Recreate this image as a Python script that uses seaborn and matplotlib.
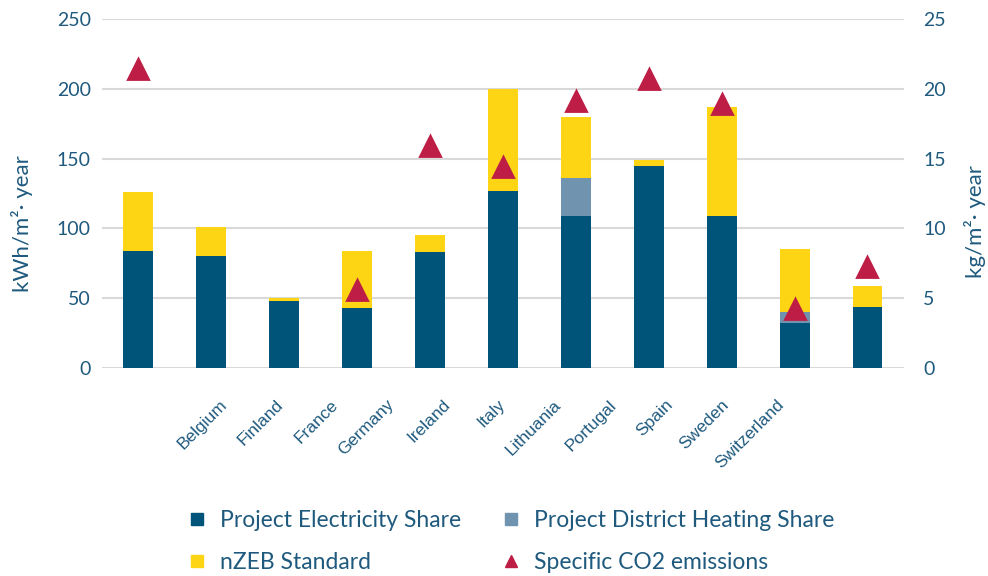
import numpy as np
import pandas as pd
import matplotlib
matplotlib.use('Agg')
import matplotlib.pyplot as plt
import seaborn as sns
from matplotlib.lines import Line2D

# data
countries = ['Belgium', 'Finland', 'France', 'Germany', 'Ireland', 'Italy',
             'Lithuania', 'Portugal', 'Spain', 'Sweden', 'Switzerland']
electricity = [84, 80, 48, 43, 83, 127, 109, 145, 109, 32, 44]
district_heating = [0, 0, 0, 0, 0, 0, 27, 0, 0, 8, 0]
nzeb = [126, 101, 50, 84, 95, 200, 180, 149, 187, 85, 59]
co2 = [21.4, np.nan, np.nan, 5.6, 15.9, 14.4, 19.1, 20.7, 18.9, 4.2, 7.2]

# colours
c_elec = '#00547A'
c_dh = '#7094B0'
c_nzeb = '#FDD514'
c_co2 = '#BE1E45'
c_text = '#1F5A7E'
c_grid = '#D9D9D9'

df = pd.DataFrame({'country': countries, 'electricity': electricity,
                   'district': district_heating, 'nzeb': nzeb, 'co2': co2})
df['dh_top'] = df['electricity'] + df['district']

sns.set_style('white')
plt.rcParams['font.family'] = ['Lato', 'DejaVu Sans']

fig = plt.figure(figsize=(9.88, 5.76), dpi=100)
ax = fig.add_axes([0.1032, 0.3611, 0.8117, 0.6059])

# stacked look: nZEB behind, then district heating, then electricity
for col, c, z in [('nzeb', c_nzeb, 2), ('dh_top', c_dh, 3), ('electricity', c_elec, 4)]:
    sns.barplot(data=df, x='country', y=col, color=c, width=0.41,
                saturation=1, linewidth=0, ax=ax, zorder=z)

ax.set_ylim(0, 250)
ax.set_yticks(range(0, 251, 50))
ax.set_xlim(-0.5, len(countries) - 0.5)
ax.grid(axis='y', color=c_grid, linewidth=1.5)
ax.set_axisbelow(True)
sns.despine(ax=ax, left=True, bottom=True)
ax.tick_params(axis='y', length=0, pad=8, labelsize=14, labelcolor=c_text)
ax.set_ylabel('kWh/m²· year', fontsize=16, color=c_text)
ax.yaxis.set_label_coords(-0.086, 0.415)
ax.set_xlabel('')

# CO2 triangles on the secondary axis
ax2 = ax.twinx()
sns.pointplot(data=df, x='country', y='co2', linestyle='none', marker='^',
              markersize=15, color=c_co2, ax=ax2, zorder=5)
ax2.set_ylim(0, 25)
ax2.set_yticks(range(0, 26, 5))
ax2.set_xlim(-0.5, len(countries) - 0.5)
for s in ax2.spines.values():
    s.set_visible(False)
ax2.tick_params(axis='y', length=0, pad=14, labelsize=14, labelcolor=c_text)
ax2.set_ylabel('kg/m²· year', fontsize=16, color=c_text, rotation=90)
ax2.yaxis.set_label_coords(1.075, 0.42)
ax2.set_xlabel('')

# country labels sit on their own, tighter spacing in the original
label_pos = np.linspace(1.11, 8.75, len(countries))
ax.set_xticks(label_pos)
ax.set_xticklabels(countries, rotation=45, ha='right', rotation_mode='anchor',
                   fontsize=12.5, color=c_text, family='Liberation Sans')
ax.tick_params(axis='x', length=0, pad=21)
ax2.tick_params(axis='x', length=0, labelbottom=False)

handles = [
    Line2D([], [], linestyle='none', marker='s', markersize=8, color=c_elec),
    Line2D([], [], linestyle='none', marker='s', markersize=8, color=c_nzeb),
    Line2D([], [], linestyle='none', marker='s', markersize=8, color=c_dh),
    Line2D([], [], linestyle='none', marker='^', markersize=8, color=c_co2),
]
labels = ['Project Electricity Share', 'nZEB Standard',
          'Project District Heating Share', 'Specific CO2 emissions']
leg = fig.legend(handles, labels, loc='upper left', ncol=2, frameon=False,
                 bbox_to_anchor=(186 / 988, 1 - 510 / 576), borderaxespad=0,
                 borderpad=0, fontsize=16.5, handlelength=1.0, handletextpad=0.5,
                 columnspacing=1.65, labelspacing=0.9)
for t in leg.get_texts():
    t.set_color(c_text)

fig.savefig('out.png', dpi=100, facecolor='white')
